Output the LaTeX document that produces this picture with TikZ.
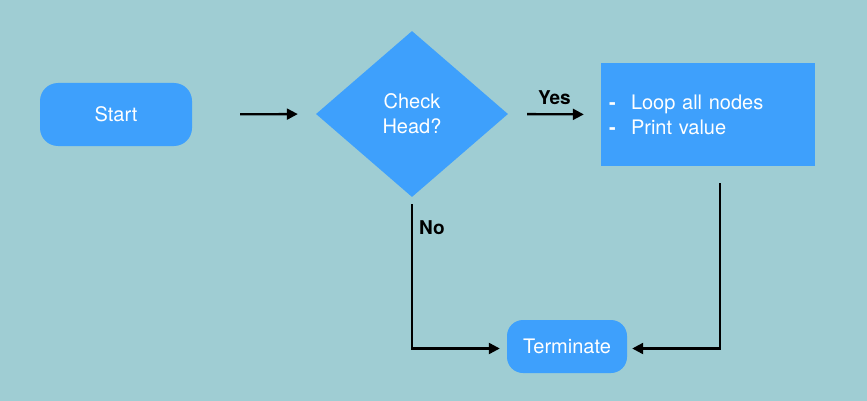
\documentclass[tikz,border=0pt]{standalone}
\usepackage{fontspec}
\setmainfont{TeX Gyre Heros}
\usetikzlibrary{shapes.geometric,arrows.meta}
\definecolor{bgteal}{RGB}{159,205,211}
\definecolor{boxblue}{RGB}{62,160,252}
\tikzset{
  flowbox/.style={fill=boxblue,text=white,inner sep=0pt},
  flowline/.style={line width=2.3pt,-{Triangle[length=11pt,width=11pt]}},
  flowlabel/.style={font=\fontsize{19}{23}\selectfont\bfseries,inner sep=2pt}
}

\begin{document}
\begin{tikzpicture}[x=1pt,y=-1pt,font=\fontsize{20}{25}\selectfont]
  %background
  \fill[bgteal] (0,0) rectangle (867,401);

  \node[flowbox,rounded corners=18pt,minimum width=152pt,minimum height=63pt] (start) at (116,114.5) {Start};
  \node[flowbox,diamond,minimum width=192pt,minimum height=166pt,align=center] (check) at (412,114) {Check\\Head?};
  \node[flowbox,minimum width=214pt,minimum height=103pt,text width=198pt,align=left] (loop) at (708,114.5)
    {\makebox[22pt][l]{\bfseries -}Loop all nodes\\\makebox[22pt][l]{\bfseries -}Print value};
  \node[flowbox,rounded corners=16pt,minimum width=120pt,minimum height=53pt] (term) at (567,346.5) {Terminate};

  %connectors
  \draw[flowline,shorten <=48pt,shorten >=18pt] (start.east) -- (check.west);
  \draw[flowline,shorten <=19pt,shorten >=17pt] (check.east) -- node[flowlabel,above=6pt] {Yes} (loop.west);
  \draw[flowline,shorten <=7pt,shorten >=7pt] (check.south) |- node[flowlabel,right=4pt,pos=0.1] {No} ([yshift=-2pt]term.west);
  \draw[flowline,shorten <=17pt,shorten >=5pt] ([xshift=12pt]loop.south) |- ([yshift=-2pt]term.east);
\end{tikzpicture}
\end{document}
